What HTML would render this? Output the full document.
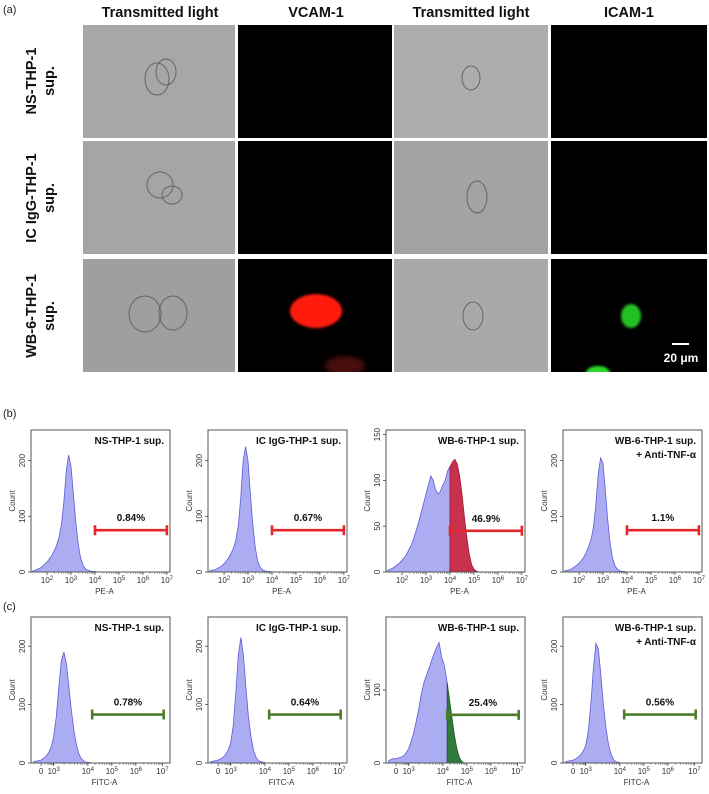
<!DOCTYPE html>
<html><head><meta charset="utf-8">
<style>
body{margin:0;background:#fff;width:709px;height:794px;overflow:hidden;font-family:"Liberation Sans",sans-serif}
svg{display:block}
</style></head>
<body>
<svg id="fig" width="709" height="794" viewBox="0 0 709 794" xmlns="http://www.w3.org/2000/svg">
<defs>
<filter id="blur3"><feGaussianBlur stdDeviation="3"/></filter>
<filter id="blur1"><feGaussianBlur stdDeviation="1.2"/></filter>
<clipPath id="clipV"><rect x="238" y="259" width="154" height="113"/></clipPath>
<clipPath id="clipI"><rect x="551" y="259" width="156" height="113"/></clipPath>
</defs>
<text x="3" y="13" font-size="11" fill="#222">(a)</text>
<g font-size="14.5" font-weight="bold" text-anchor="middle" fill="#111">
<text x="160" y="17">Transmitted light</text>
<text x="316" y="17">VCAM-1</text>
<text x="471" y="17">Transmitted light</text>
<text x="629" y="17">ICAM-1</text>
</g>
<g font-size="14.5" font-weight="bold" text-anchor="middle" fill="#111">
<text transform="translate(40,81) rotate(-90)"><tspan x="0" y="-4">NS-THP-1</tspan><tspan x="0" y="14">sup.</tspan></text>
<text transform="translate(40,198) rotate(-90)"><tspan x="0" y="-4">IC IgG-THP-1</tspan><tspan x="0" y="14">sup.</tspan></text>
<text transform="translate(40,316) rotate(-90)"><tspan x="0" y="-4">WB-6-THP-1</tspan><tspan x="0" y="14">sup.</tspan></text>
</g>
<g id="micro"></g>
<g id="vclip" clip-path="url(#clipV)"></g>
<g id="iclip" clip-path="url(#clipI)"></g>
<g id="hists"></g>
</svg>
<script>
const colX = [83, 238, 394, 551];
const colW = [152, 154, 154, 156];
const rowY = [25, 141, 259];
const rowH = 113;
const micro = document.getElementById('micro');
const vclip = document.getElementById('vclip');
const iclip = document.getElementById('iclip');
const NS = 'http://www.w3.org/2000/svg';
function mk(tag, attrs, parent){const e=document.createElementNS(NS,tag);for(const k in attrs)e.setAttribute(k,attrs[k]);parent.appendChild(e);return e;}
const grayFill = [['#a7a7a7','#000','#adadad','#000'],['#a5a5a5','#000','#a3a3a3','#000'],['#9f9f9f','#000','#a9a9a9','#000']];
for(let r=0;r<3;r++){for(let c=0;c<4;c++){
  const p = mk('rect',{x:colX[c],y:rowY[r],width:colW[c],height:rowH,fill:grayFill[r][c]},micro);
  
  
}}
const cells = [[0,0,157,79,12,16],[0,0,166,72,10,13],[0,2,471,78,9,12],[1,0,160,185,13,13],[1,0,172,195,10,9],[1,2,477,197,10,16],[2,0,145,314,16,18],[2,0,173,313,14,17],[2,2,473,316,10,14]];
cells.forEach(cl=>{const e=mk('ellipse',{cx:cl[2],cy:cl[3],rx:cl[4],ry:cl[5],fill:'none',stroke:'#555','stroke-width':1,opacity:0.8},micro);
  
  });
const rb = mk('ellipse',{cx:316,cy:311,rx:26,ry:17,fill:'#ff1a10',filter:'url(#blur1)'},vclip);


const rb2 = mk('ellipse',{cx:345,cy:366,rx:20,ry:10,fill:'#4a0808',filter:'url(#blur3)'},vclip);


const gb = mk('ellipse',{cx:631,cy:316,rx:10,ry:12,fill:'#22c022',filter:'url(#blur1)'},iclip);


const gb2 = mk('ellipse',{cx:598,cy:373,rx:12,ry:7,fill:'#2ad82a',filter:'url(#blur1)'},iclip);


const sb = mk('rect',{x:672,y:343,width:17,height:2,fill:'#fff'},micro);


const st = mk('text',{x:681,y:362,'font-size':12,'font-weight':'bold',fill:'#fff','text-anchor':'middle'},micro);
st.textContent='20 μm';



// ---------- flow cytometry data ----------
const peStart = 1.4, peStep = 0.1;
const peB1 = [2,3,5,7,10,14,18,24,30,38,48,62,85,125,180,210,190,140,90,50,25,12,6,3,2,1,1,0];
const peB2 = [2,3,4,6,8,11,15,20,26,34,44,58,85,135,200,225,200,140,85,45,20,9,4,2,1,1,0,0];
const peB3 = [2,3,4,6,8,10,13,16,20,25,30,38,46,55,65,75,85,95,105,100,90,85,88,95,100,110,115,120,123,118,105,85,60,38,20,8,3,1,0];
const peB4 = [2,3,4,6,9,12,16,21,27,35,45,58,80,120,175,205,195,145,92,50,24,11,5,2,1,1,0,0];
const fiStart = -0.3, fiStep = 0.1;
const fiC1 = [2,3,4,5,8,12,18,28,45,80,130,175,190,170,130,90,55,30,15,7,3,1,1,0];
const fiC2 = [2,3,4,5,7,10,15,22,35,65,120,185,215,185,130,80,45,22,10,4,2,1,0,0];
const fiC3 = [3,5,6,6,7,8,10,14,20,30,42,58,75,95,110,120,130,140,150,158,165,145,135,115,90,65,40,20,8,2,0];
const fiC4 = [2,3,4,5,7,10,14,20,30,55,100,160,205,195,150,100,60,32,15,6,2,1,0,0];
const peTickVals = [2,3,4,5,6,7];
const peTickLabels = ['2','3','4','5','6','7'];
const fiTickVals = [0,0.5,1.85,2.8,3.75,4.8];
const fiTickLabels = ['0','3','4','5','6','7'];
const titles = [['NS-THP-1 sup.'],['IC IgG-THP-1 sup.'],['WB-6-THP-1 sup.'],['WB-6-THP-1 sup.','+ Anti-TNF-α']];
const bPct = ['0.84%','0.67%','46.9%','1.1%'];
const cPct = ['0.78%','0.64%','25.4%','0.56%'];
const bYMax = [255,255,155,255];
const cYMax = [250,250,200,250];
const bYTicks = [[0,100,200],[0,100,200],[0,50,100,150],[0,100,200]];
const cYTicks = [[0,100,200],[0,100,200],[0,100],[0,100,200]];
const bGateY = [75,75,45,75];
const cGateY = [83,83,66,83];
const bGate = [4.0,7.0];
const cGate = [2.02,4.85];

const boxX = [31,208,386,563], boxW = 139;
const rowsDef = [
  {top:430,bot:572,dom:[1.33,7.13],start:peStart,step:peStep,data:[peB1,peB2,peB3,peB4],tv:peTickVals,tl:peTickLabels,xl:'PE-A',pct:bPct,ymax:bYMax,yt:bYTicks,gy:bGateY,gate:bGate,col:'#e3262c',fill:'#c8324f',name:'pe'},
  {top:617,bot:763,dom:[-0.4,5.1],start:fiStart,step:fiStep,data:[fiC1,fiC2,fiC3,fiC4],tv:fiTickVals,tl:fiTickLabels,xl:'FITC-A',pct:cPct,ymax:cYMax,yt:cYTicks,gy:cGateY,gate:cGate,col:'#4b7d2a',fill:'#2f7a3a',name:'fitc'}
];
const hists = document.getElementById('hists');
const lb = mk('text',{x:3,y:417,'font-size':11,fill:'#222'},hists); lb.textContent='(b)';


const lc = mk('text',{x:3,y:610,'font-size':11,fill:'#222'},hists); lc.textContent='(c)';



rowsDef.forEach((R,ri)=>{
  for(let i=0;i<4;i++){
    const x0=boxX[i], x1=x0+boxW, y0=R.top, y1=R.bot;
    const xs = v=> x0+(v-R.dom[0])/(R.dom[1]-R.dom[0])*boxW;
    const ys = v=> y1-v/R.ymax[i]*(y1-y0);
    const g = mk('g',{},hists);
    
    
    const pts = R.data[i].map((v,k)=>[xs(R.start+k*R.step),ys(v)]);
    const gx = xs(R.gate[0]);
    const blue=[], colr=[];
    for(let k=0;k<pts.length;k++){
      const p=pts[k];
      if(p[0]<=gx) blue.push(p); else {
        if(colr.length===0 && k>0){const q=pts[k-1];const t=(gx-q[0])/(p[0]-q[0]);const m=[gx,q[1]+t*(p[1]-q[1])];blue.push(m);colr.push(m);}
        colr.push(p);
      }
    }
    const poly=(arr)=>{if(!arr.length)return '';return 'M'+arr[0][0]+','+y1+' '+arr.map(p=>'L'+p[0].toFixed(1)+','+p[1].toFixed(1)).join(' ')+' L'+arr[arr.length-1][0]+','+y1+'Z';};
    const bp = mk('path',{d:poly(blue),fill:'#acacf2',stroke:'#5c5cd6','stroke-width':0.8},g);
    
    
    if(i===2){
      const cp = mk('path',{d:poly(colr),fill:R.fill,stroke:ri===0?'#a01830':'#1f5a28','stroke-width':0.8},g);
      
      
    } else if(colr.length){
      const cp = mk('path',{d:poly(colr),fill:'#acacf2',stroke:'#5c5cd6','stroke-width':0.8},g);
      
      
    }
    const box = mk('rect',{x:x0,y:y0,width:boxW,height:y1-y0,fill:'none',stroke:'#555','stroke-width':1},g);
    
    
    R.yt[i].forEach(v=>{
      mk('line',{x1:x0-3,x2:x0,y1:ys(v),y2:ys(v),stroke:'#444','stroke-width':0.8},g);
      const t=mk('text',{transform:`translate(${x0-6},${ys(v)}) rotate(-90)`,'font-size':8,'text-anchor':'middle',fill:'#333'},g);
      t.textContent=String(v);
      
      
    });
    const yl=mk('text',{transform:`translate(${x0-16},${(y0+y1)/2}) rotate(-90)`,'font-size':8,'text-anchor':'middle',fill:'#333'},g);
    yl.textContent='Count';
    
    
    R.tv.forEach((v,k)=>{
      const xx=xs(v);
      mk('line',{x1:xx,x2:xx,y1:y1,y2:y1+3,stroke:'#444','stroke-width':0.8},g);
      for(let m=1;m<=8&&k<R.tv.length-1;m++){const mx=xx+(xs(R.tv[k+1])-xx)*Math.log10(1+m);mk('line',{x1:mx,x2:mx,y1:y1,y2:y1+2,stroke:'#666','stroke-width':0.5},g);}
      const t=mk('text',{x:xx,y:y1+11,'font-size':8,'text-anchor':'middle',fill:'#333'},g);
      if(R.tl[k]==='0'){t.textContent='0';}
      else{t.textContent='10';const s=mk('tspan',{dy:-3,'font-size':6},t);s.textContent=R.tl[k];}
      
      
    });
    const xl=mk('text',{x:(x0+x1)/2+4,y:y1+22,'font-size':8,'text-anchor':'middle',fill:'#333'},g);
    xl.textContent=R.xl;
    
    
    titles[i].forEach((s,k)=>{
      const t=mk('text',{x:x1-6,y:y0+14+k*14,'font-size':10,'font-weight':'bold','text-anchor':'end',fill:'#111'},g);
      t.textContent=s;
      
      
    });
    const gyy=ys(R.gy[i]), ga=xs(R.gate[0]), gb=xs(R.gate[1]);
    const gl=mk('path',{d:`M${ga},${gyy}H${gb}M${ga},${gyy-5}V${gyy+5}M${gb},${gyy-5}V${gyy+5}`,stroke:R.col,'stroke-width':2.6,fill:'none'},g);
    
    
    const pt=mk('text',{x:(ga+gb)/2,y:gyy-9,'font-size':10,'font-weight':'bold','text-anchor':'middle',fill:'#111'},g);
    pt.textContent=R.pct[i];
    
    
  }
});
</script>
</body></html>
